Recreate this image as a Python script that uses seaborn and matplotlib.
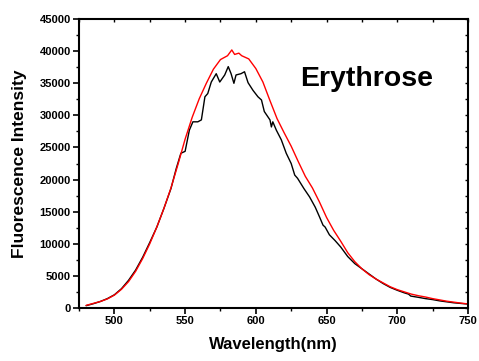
import matplotlib
matplotlib.use("Agg")
import matplotlib.pyplot as plt
from matplotlib.ticker import MultipleLocator
import seaborn as sns
import pandas as pd

# Emission spectra (wavelength in nm, intensity in counts)
wl_red = [480, 485, 490, 495, 500, 505, 510, 515, 520, 525, 530, 535, 540, 545,
          550, 555, 560, 565, 570, 575, 580, 583, 585, 588, 590, 592, 595, 600,
          605, 610, 615, 620, 625, 630, 635, 640, 645, 650, 655, 660, 665, 670,
          675, 680, 685, 690, 695, 700, 705, 710, 715, 720, 725, 730, 735, 740,
          745, 750]
int_red = [400, 700, 1000, 1400, 2000, 2900, 4100, 5700, 7700, 10000, 12600,
           15500, 18700, 22400, 26300, 29700, 32600, 35000, 37200, 38700, 39300,
           40200, 39500, 39700, 39300, 39100, 38800, 37300, 35200, 32300, 29500,
           27300, 25200, 22800, 20500, 18700, 16500, 14100, 12100, 10400, 8600,
           7200, 6100, 5200, 4500, 3900, 3300, 2850, 2500, 2150, 1900, 1700, 1450,
           1250, 1050, 900, 750, 620]

wl_black = [480, 485, 490, 495, 500, 505, 510, 515, 520, 525, 530, 535, 540,
            543.7, 547, 550, 553, 555.5, 559, 561.5, 564, 566, 568.5, 572, 574.5,
            578, 580.5, 582.5, 584.5, 586, 589.5, 592, 594.5, 598, 601.5, 604,
            606, 610, 611, 612, 614.5, 618, 621.5, 625, 627.5, 629.5, 634, 638,
            642, 645, 647.5, 649, 652, 656, 660, 665, 670, 675, 680, 685, 690,
            695, 700, 705, 708, 709.5, 715, 720, 725, 730, 735, 740, 745, 750]
int_black = [350, 650, 1000, 1450, 2050, 3000, 4300, 5900, 7900, 10200, 12600,
             15500, 18600, 21700, 24100, 24400, 27700, 29000, 29000, 29300, 32900,
             33400, 35200, 36500, 35200, 36300, 37600, 36500, 35000, 36300, 36500,
             36800, 35100, 33900, 32900, 32400, 30600, 29300, 28200, 29000, 27700,
             26200, 24100, 22500, 20700, 20200, 18600, 17300, 15700, 14200, 12900,
             12600, 11400, 10500, 9500, 8000, 6900, 6100, 5300, 4500, 3800, 3200,
             2750, 2350, 2150, 1850, 1650, 1450, 1300, 1100, 950, 800, 700, 600]

sample_name = "Erythrose"

df_red = pd.DataFrame({"Wavelength": wl_red, "Intensity": int_red})
df_black = pd.DataFrame({"Wavelength": wl_black, "Intensity": int_black})

sns.set_style("ticks")
plt.rcParams["font.family"] = ["Liberation Sans", "DejaVu Sans"]
plt.rcParams["font.weight"] = "bold"

fig = plt.figure(figsize=(4.79, 3.61), dpi=100)
ax = fig.add_axes([0.165, 0.147, 0.812, 0.800])

sns.lineplot(data=df_black, x="Wavelength", y="Intensity", color="black",
             linewidth=1.0, ax=ax, sort=False)
sns.lineplot(data=df_red, x="Wavelength", y="Intensity", color="#ff0000",
             linewidth=1.0, ax=ax, sort=False)

ax.set_xlim(475, 750)
ax.set_ylim(0, 45000)
ax.xaxis.set_major_locator(MultipleLocator(50))
ax.xaxis.set_minor_locator(MultipleLocator(25))
ax.yaxis.set_major_locator(MultipleLocator(5000))
ax.yaxis.set_minor_locator(MultipleLocator(2500))

for s in ax.spines.values():
    s.set_linewidth(1.5)
    s.set_color("black")

ax.tick_params(which="major", direction="out", length=4, width=1.2,
               labelsize=8, colors="black", pad=2)
ax.tick_params(which="minor", direction="out", length=2.5, width=1.0,
               colors="black")
for lab in ax.get_xticklabels() + ax.get_yticklabels():
    lab.set_fontweight("bold")

# Inward ticks on the top and right frame
top = ax.secondary_xaxis("top")
top.xaxis.set_major_locator(MultipleLocator(25))
top.tick_params(direction="in", length=2.5, width=1.0, labeltop=False,
                colors="black")
top.spines["top"].set_visible(False)
right = ax.secondary_yaxis("right")
right.yaxis.set_major_locator(MultipleLocator(2500))
right.tick_params(direction="in", length=2.5, width=1.0, labelright=False,
                  colors="black")
right.spines["right"].set_visible(False)

ax.set_xlabel("Wavelength(nm)", fontsize=12, fontweight="bold", labelpad=8,
              color="black")
ax.set_ylabel("Fluorescence Intensity", fontsize=12.5, fontweight="bold",
              labelpad=9, color="black")

ax.text(631, 34600, sample_name, fontsize=20.5, fontweight="bold",
        ha="left", va="baseline", color="black")

fig.savefig("out.png", dpi=100)
